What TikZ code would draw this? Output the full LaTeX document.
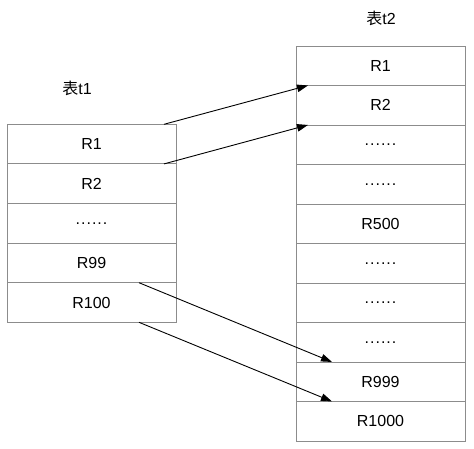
\documentclass[tikz,border=0pt]{standalone}
\usepackage{fontspec}
\setmainfont{Liberation Sans}
\newfontfamily\cjk{Noto Sans CJK SC}
\usetikzlibrary{arrows.meta}
\newcommand{\sixdots}{.\kern1pt.\kern1pt.\kern1pt.\kern1pt.\kern1pt.}
\begin{document}
\begin{tikzpicture}[x=1pt,y=-1pt,
  rowbox/.style={draw=black!45,line width=0.9pt,minimum width=169pt,minimum height=39.6pt,inner sep=0pt,outer sep=0pt,font=\fontsize{16}{19}\selectfont},
  title/.style={font=\fontsize{16}{19}\selectfont},
  link/.style={line width=0.9pt,-{Triangle[length=11pt,width=7.5pt]}}]
\useasboundingbox (0,0) rectangle (474,448);
% table t1
\node[title] (t1) at (77,88) {{\cjk 表}t1};
\foreach \i/\t in {1/R1,2/R2,3/{\sixdots},4/R99,5/R100}{
  \node[rowbox] (a\i) at (91.5,{124.3+39.6*(\i-0.5)}) {\t};
}
% table t2
\node[title] (t2) at (381,18) {{\cjk 表}t2};
\foreach \i/\t in {1/R1,2/R2,3/{\sixdots},4/{\sixdots},5/R500,6/{\sixdots},7/{\sixdots},8/{\sixdots},9/R999,10/R1000}{
  \node[rowbox] (b\i) at (380.5,{46+39.5*(\i-0.5)}) {\t};
}
% links
\draw[link] ([xshift=-12pt]a1.north east) -- ([xshift=12pt]b2.north west);
\draw[link] ([xshift=-12pt]a2.north east) -- ([xshift=12pt]b3.north west);
\draw[link] ([xshift=-37pt]a5.north east) -- ([xshift=36pt]b9.north west);
\draw[link] ([xshift=-37pt]a5.south east) -- ([xshift=36pt]b10.north west);
\end{tikzpicture}
\end{document}
